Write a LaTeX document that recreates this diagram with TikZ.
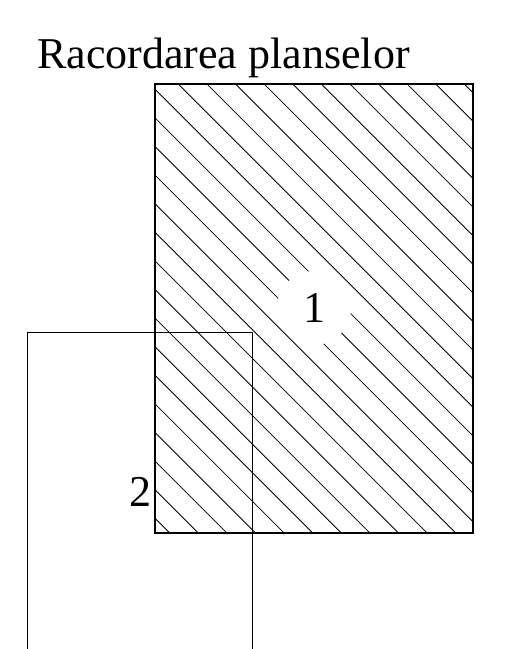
\documentclass[tikz,border=0pt]{standalone}
\usepackage{fontspec}
\setmainfont{Liberation Serif}
\begin{document}
\begin{tikzpicture}[x=1pt,y=1pt,
  hatchline/.style={line width=0.8pt},
  framebox/.style={line width=2.4pt},
  thinframe/.style={line width=1pt},
  bigtext/.style={font=\fontsize{44}{50}\selectfont, inner sep=0pt}]
\useasboundingbox (0,0) rectangle (528,-649);
% title
\node[bigtext, anchor=base west] (title) at (37,-68) {Racordarea planselor};
% hatching inside plate 1
\begin{scope}
  \clip (155,-84) rectangle (473,-533);
  \foreach \k in {-14,...,14}{
    \pgfmathsetmacro{\c}{8.5+28.6*\k}
    \draw[hatchline] (100,{\c-100}) -- (520,{\c-520});
  }
\end{scope}
% label 1 with white mask
\node[bigtext, circle, fill=white, minimum size=74pt] (one) at (314,-308) {1};
% plate 1 border
\draw[framebox] (155,-84) rectangle (473,-533);
% plate 2 (thin outline, open at bottom)
\coordinate (p2a) at (27,-660);
\coordinate (p2b) at (27,-332);
\coordinate (p2c) at (252,-332);
\coordinate (p2d) at (252,-660);
\draw[thinframe] (p2a) -- (p2b) -- (p2c) -- (p2d);
% label 2
\node[bigtext] (two) at (140,-492) {2};
\end{tikzpicture}
\end{document}
